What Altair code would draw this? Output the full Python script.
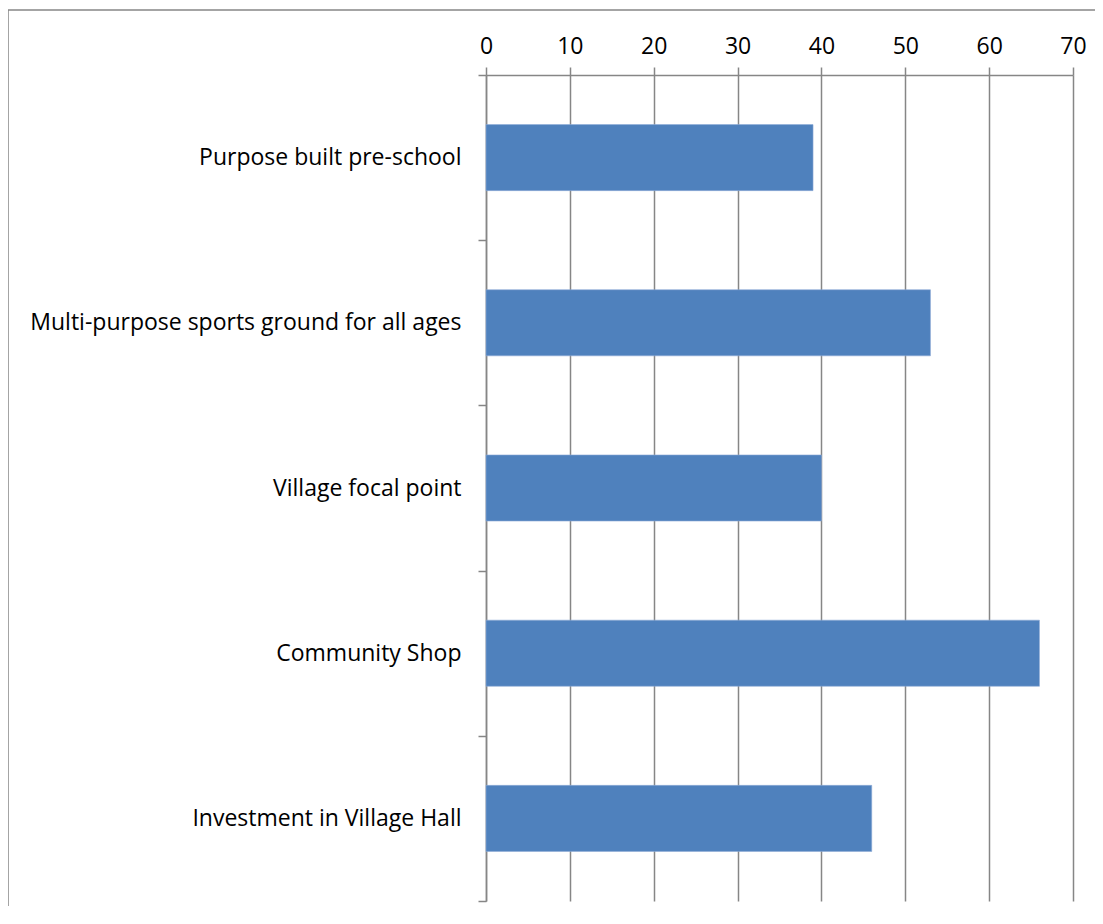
import altair as alt
import pandas as pd

categories = [
    "Purpose built pre-school\u00a0",
    "Multi-purpose sports ground for all ages",
    "Village focal point\u00a0",
    "Community Shop",
    "Investment in Village Hall",
]
values = [39, 53, 40, 66, 46]
x_ticks = [0, 10, 20, 30, 40, 50, 60, 70]

df = pd.DataFrame({"category": categories, "value": values})

FONT = "Open Sans"
GRAY = "#868686"

bars = alt.Chart(df).mark_bar(
    color="#4F81BD", stroke="#8EABD6", strokeWidth=0.6,
    height=alt.RelativeBandSize(0.4),
).encode(
    x=alt.X(
        "value:Q",
        scale=alt.Scale(domain=[0, 70], nice=False, zero=True),
        axis=alt.Axis(
            orient="top", values=x_ticks, title=None, grid=True,
            gridColor=GRAY, gridWidth=1.5, domainColor=GRAY, domainWidth=1.5,
            tickColor=GRAY, tickWidth=1.5, tickSize=8, labelPadding=9,
            labelFlush=False,
            labelFont=FONT, labelFontSize=23, labelColor="#000000",
        ),
    ),
    y=alt.Y(
        "category:N",
        sort=categories,
        scale=alt.Scale(paddingInner=0, paddingOuter=0),
        axis=alt.Axis(
            title=None, tickBand="extent", grid=False,
            domainColor=GRAY, domainWidth=1.5, tickColor=GRAY, tickWidth=1.5,
            tickSize=8, labelPadding=17, labelFont=FONT, labelFontSize=23,
            labelColor="#000000", labelLimit=600,
        ),
    ),
)

frame = alt.Chart(pd.DataFrame({"a": [0]})).mark_rect(
    filled=False, stroke="#878787", strokeWidth=1.5
).encode(
    x=alt.value(-478), x2=alt.value(900),
    y=alt.value(-65), y2=alt.value(1200),
)

chart = alt.layer(frame, bars).properties(
    width=587, height=826,
    padding={"left": 478, "top": 67, "right": 22, "bottom": 5},
    autosize=alt.AutoSizeParams(type="none"),
).configure_view(stroke=None)

chart.save("out.html", embed_options={"renderer": "svg", "actions": False})
